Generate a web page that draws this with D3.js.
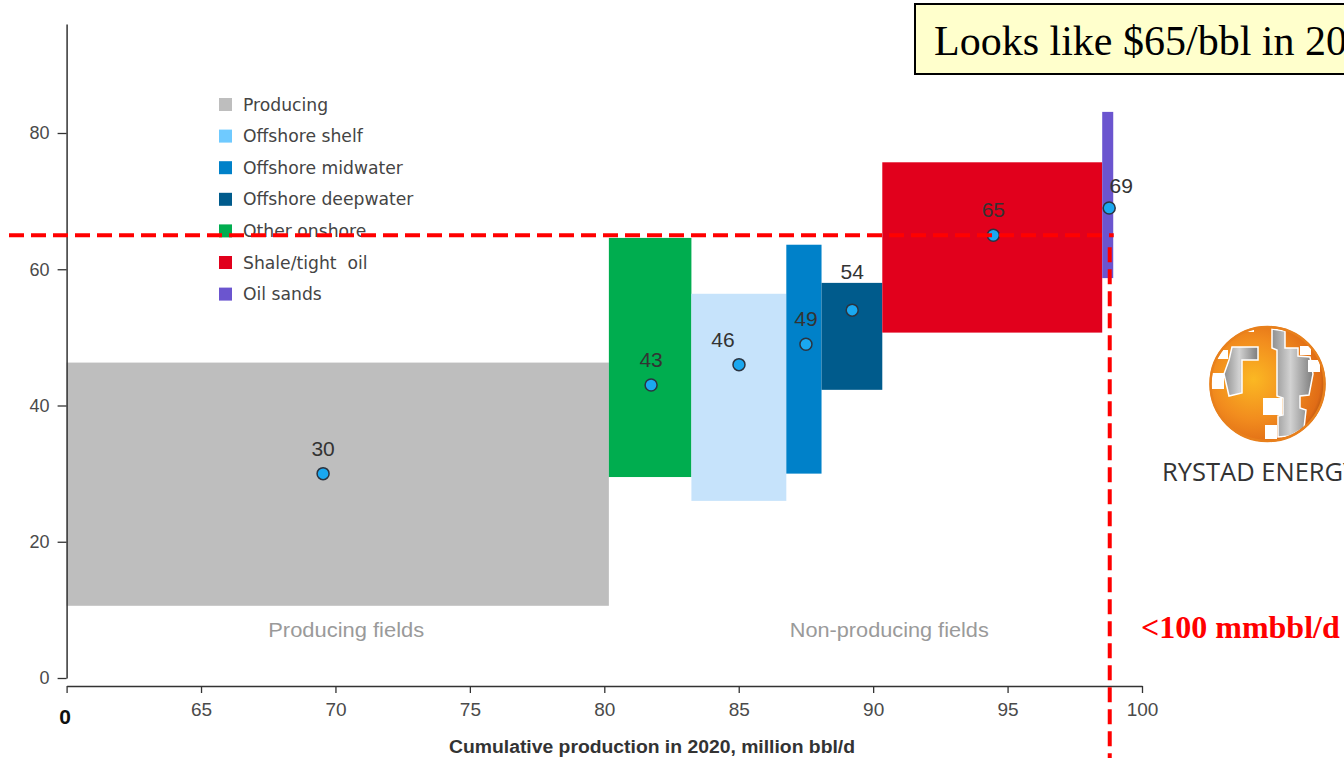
<!DOCTYPE html>
<html>
<head>
<meta charset="utf-8">
<script src="https://cdn.jsdelivr.net/npm/d3@7"></script>
<style>
  html, body { margin: 0; padding: 0; background: #fff; overflow: hidden; }
  svg { display: block; }
</style>
</head>
<body>
<svg id="chart" width="1344" height="758"></svg>
<script>
// Oil supply cost curve: field categories by cumulative 2020 production
const categories = ["Producing", "Other onshore", "Offshore shelf", "Offshore midwater", "Offshore deepwater", "Shale/tight  oil", "Oil sands"];
const cumStart = [60, 80.17, 83.24, 86.77, 88.08, 90.34, 98.52];
const cumEnd = [80.17, 83.24, 86.77, 88.08, 90.34, 98.52, 98.93];
const costLow = [10.6, 29.5, 26.0, 30.0, 42.3, 50.7, 58.7];
const costHigh = [46.3, 64.6, 56.4, 63.6, 58.0, 75.7, 83.1];
const breakeven = [30, 43, 46, 49, 54, 65, 69];
const breakevenAt = [69.54, 81.74, 85.01, 87.5, 89.22, 94.47, 98.78];
const labelPlacement = ["top", "top", "top-left", "top", "above-bar", "top", "right"];
const barColors = ["#bebebe", "#00ad4f", "#c6e3fb", "#0081c9", "#005b8c", "#e1001c", "#6b55cf"];

const legendItems = ["Producing", "Offshore shelf", "Offshore midwater", "Offshore deepwater", "Other onshore", "Shale/tight  oil", "Oil sands"];
const legendColors = ["#bebebe", "#6fcaff", "#0081c9", "#005b8c", "#00ad4f", "#e1001c", "#6b55cf"];

const xTicks = [60, 65, 70, 75, 80, 85, 90, 95, 100];
const xTickLabels = ["0", "65", "70", "75", "80", "85", "90", "95", "100"];
const yTicks = [0, 20, 40, 60, 80];

const priceLine = 65;      // $/bbl
const supplyLimit = 98.8;  // million bbl/d

const groupLabels = ["Producing fields", "Non-producing fields"];
const groupLabelAt = [70.4, 90.6];

const svg = d3.select("#chart");
const x = d3.scaleLinear().domain([60, 100]).range([66.6, 1142]);
const y = d3.scaleLinear().domain([0, 96]).range([678, 24]);

const rows = categories.map((c, i) => ({
  name: c, x0: cumStart[i], x1: cumEnd[i], lo: costLow[i], hi: costHigh[i],
  be: breakeven[i], bx: breakevenAt[i], place: labelPlacement[i], color: barColors[i]
}));

// cost range bars
svg.append("g").selectAll("rect").data(rows).join("rect")
  .attr("x", d => x(d.x0))
  .attr("width", d => x(d.x1) - x(d.x0))
  .attr("y", d => y(d.hi))
  .attr("height", d => y(d.lo) - y(d.hi))
  .attr("fill", d => d.color);

// group captions under the bars
const captionWidths = [156, 199];
svg.append("g").selectAll("text").data(groupLabels).join("text")
  .attr("x", (d, i) => x(groupLabelAt[i]))
  .attr("y", 637)
  .attr("text-anchor", "middle")
  .attr("font-family", "Liberation Sans, Arial, sans-serif")
  .attr("font-size", 20)
  .attr("fill", "#9a9a9a")
  .attr("textLength", (d, i) => captionWidths[i])
  .attr("lengthAdjust", "spacingAndGlyphs")
  .text(d => d);

// breakeven markers
svg.append("g").selectAll("circle").data(rows).join("circle")
  .attr("cx", d => x(d.bx))
  .attr("cy", d => y(d.be))
  .attr("r", 6)
  .attr("fill", "#1aa8f0")
  .attr("stroke", "#2b3440")
  .attr("stroke-width", 1.5);

// breakeven value labels
svg.append("g").selectAll("text").data(rows).join("text")
  .attr("x", d => {
    const cx = x(d.bx);
    if (d.place === "top-left") return cx - 16;
    if (d.place === "right") return cx + 12;
    return cx;
  })
  .attr("y", d => {
    if (d.place === "above-bar") return y(d.hi) - 4;
    if (d.place === "right") return y(d.be) - 15;
    return y(d.be) - 18;
  })
  .attr("text-anchor", "middle")
  .attr("font-family", "Liberation Sans, Arial, sans-serif")
  .attr("font-size", 21)
  .attr("fill", "#333")
  .text(d => d.be);

// y axis
const yAxis = svg.append("g")
  .attr("transform", `translate(${x(60)},0)`)
  .call(d3.axisLeft(y).tickValues(yTicks).tickSize(9).tickSizeOuter(0).tickPadding(8));
yAxis.select(".domain").attr("stroke", "#333").attr("stroke-width", 1.5);
yAxis.selectAll(".tick line").attr("stroke", "#333").attr("stroke-width", 1.3);
yAxis.selectAll(".tick text")
  .attr("font-family", "Liberation Sans, Arial, sans-serif")
  .attr("font-size", 18)
  .attr("fill", "#4a4a4a");

// x axis
const xAxis = svg.append("g")
  .attr("transform", "translate(0,686)")
  .call(d3.axisBottom(x).tickValues(xTicks).tickSize(7).tickSizeOuter(0).tickPadding(10)
    .tickFormat((d, i) => xTickLabels[i]));
xAxis.select(".domain").attr("stroke", "#333").attr("stroke-width", 1.5);
xAxis.selectAll(".tick line").attr("stroke", "#333").attr("stroke-width", 1.3);
xAxis.selectAll(".tick text")
  .attr("font-family", "Liberation Sans, Arial, sans-serif")
  .attr("font-size", 19)
  .attr("fill", "#4a4a4a");
xAxis.selectAll(".tick text").filter(d => d === 60)
  .attr("dx", -2)
  .attr("dy", "1.0em")
  .attr("font-size", 21)
  .attr("font-weight", "bold")
  .attr("fill", "#111");

svg.append("text")
  .attr("x", 652)
  .attr("y", 753)
  .attr("text-anchor", "middle")
  .attr("font-family", "Liberation Sans Narrow, Liberation Sans, Arial, sans-serif")
  .attr("font-weight", "bold")
  .attr("font-size", 18)
  .attr("fill", "#333")
  .attr("textLength", 406)
  .attr("lengthAdjust", "spacingAndGlyphs")
  .text("Cumulative production in 2020, million bbl/d");

// legend
const legend = svg.append("g").attr("transform", "translate(219,98)");
const li = legend.selectAll("g").data(legendItems).join("g")
  .attr("transform", (d, i) => `translate(0,${i * 31.6})`);
li.append("rect").attr("width", 13).attr("height", 13).attr("fill", (d, i) => legendColors[i]);
li.append("text")
  .attr("x", 24).attr("y", 12.5)
  .attr("font-family", "DejaVu Sans, Verdana, sans-serif")
  .attr("font-size", 17.2)
  .attr("fill", "#444")
  .style("white-space", "pre")
  .text(d => d);

// $65 price line and supply limit
const red = svg.append("g").attr("stroke", "#ff0000").attr("stroke-width", 4).attr("stroke-dasharray", "15,7").attr("fill", "none");
red.append("line")
  .attr("x1", 9).attr("x2", x(supplyLimit) + 4)
  .attr("y1", y(priceLine)).attr("y2", y(priceLine));
red.append("line")
  .attr("x1", x(supplyLimit)).attr("x2", x(supplyLimit))
  .attr("y1", y(priceLine) + 12).attr("y2", 758);

svg.append("text")
  .attr("x", 1141).attr("y", 638)
  .attr("font-family", "Liberation Serif, Times New Roman, serif")
  .attr("font-weight", "bold")
  .attr("font-size", 32)
  .attr("fill", "#ff0000")
  .text("<100 mmbbl/d");

// annotation box
svg.append("rect")
  .attr("x", 915).attr("y", 4).attr("width", 460).attr("height", 70)
  .attr("fill", "#ffffcc").attr("stroke", "#000").attr("stroke-width", 2);
svg.append("text")
  .attr("x", 934).attr("y", 55)
  .attr("font-family", "Liberation Serif, Times New Roman, serif")
  .attr("font-size", 42)
  .attr("fill", "#000")
  .text("Looks like $65/bbl in 2020");

// Rystad Energy logo
const gx = 1267.5, gy = 384, gr = 58;
const defs = svg.append("defs");
const og = defs.append("radialGradient").attr("id", "globeOrange").attr("cx", "38%").attr("cy", "46%").attr("r", "68%");
og.append("stop").attr("offset", "0%").attr("stop-color", "#fbb823");
og.append("stop").attr("offset", "50%").attr("stop-color", "#f28d1e");
og.append("stop").attr("offset", "85%").attr("stop-color", "#e06c16");
og.append("stop").attr("offset", "100%").attr("stop-color", "#8a3c0c");
const gg = defs.append("linearGradient").attr("id", "globeGrey").attr("x1", "0").attr("x2", "1");
gg.append("stop").attr("offset", "0%").attr("stop-color", "#8f8f8f");
gg.append("stop").attr("offset", "45%").attr("stop-color", "#d2d2d2");
gg.append("stop").attr("offset", "100%").attr("stop-color", "#7c7c7c");
defs.append("clipPath").attr("id", "globeClip").append("circle").attr("cx", gx).attr("cy", gy).attr("r", gr - 2);

const logo = svg.append("g");
logo.append("circle").attr("cx", gx).attr("cy", gy).attr("r", gr).attr("fill", "url(#globeOrange)");
const inner = logo.append("g").attr("clip-path", "url(#globeClip)");
// grey tiles
inner.append("path").attr("fill", "url(#globeGrey)").attr("stroke", "#fff").attr("stroke-width", 1.5)
  .attr("d", "M1232,347 H1258 V360 H1242 V393 L1229,396 L1224,374 L1229,360 Z");
inner.append("path").attr("fill", "url(#globeGrey)").attr("stroke", "#fff").attr("stroke-width", 1.5)
  .attr("d", "M1272,329 L1285,331 L1285,348 L1298,348 L1298,356 L1310,357 L1313,374 L1309,395 L1300,396 L1300,408 L1306,410 L1304,428 L1290,436 L1278,437 L1278,416 L1283,415 L1283,398 L1277,396 L1277,350 L1272,348 Z");
// white cut-outs
const cuts = [[1263, 398, 19, 17], [1265, 425, 12, 14], [1210, 373, 14, 16], [1214, 350, 14, 9], [1300, 346, 11, 9], [1308, 360, 12, 12], [1240, 326, 14, 6], [1302, 332, 10, 7]];
inner.selectAll("rect.cut").data(cuts).join("rect").attr("class", "cut")
  .attr("x", d => d[0]).attr("y", d => d[1]).attr("width", d => d[2]).attr("height", d => d[3])
  .attr("fill", "#fff");
logo.append("circle").attr("cx", gx).attr("cy", gy).attr("r", gr - 1)
  .attr("fill", "none").attr("stroke", "#e8801c").attr("stroke-width", 2.5);

svg.append("text")
  .attr("x", 1162).attr("y", 481)
  .attr("font-family", "Open Sans, DejaVu Sans, sans-serif")
  .attr("font-size", 25.5)
  .attr("fill", "#333")
  .text("RYSTAD ENERGY");
</script>
</body>
</html>
